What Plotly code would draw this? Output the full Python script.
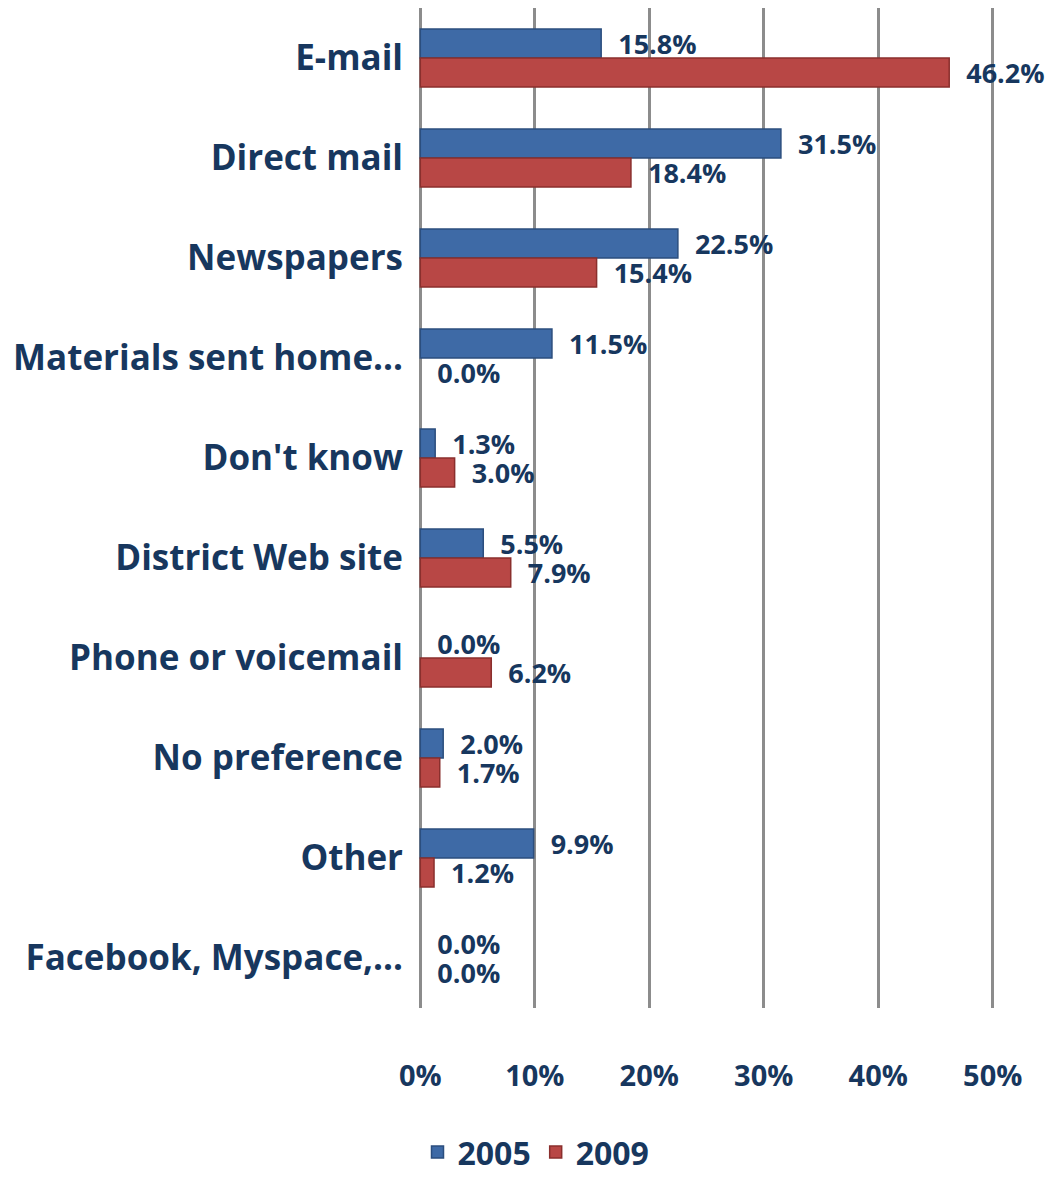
import plotly.graph_objects as go

categories = ["E-mail", "Direct mail", "Newspapers", "Materials sent home...", "Don't know",
              "District Web site", "Phone or voicemail", "No preference", "Other", "Facebook, Myspace,..."]
values_2005 = [15.8, 31.5, 22.5, 11.5, 1.3, 5.5, 0.0, 2.0, 9.9, 0.0]
values_2009 = [46.2, 18.4, 15.4, 0.0, 3.0, 7.9, 6.2, 1.7, 1.2, 0.0]
tick_vals = [0, 10, 20, 30, 40, 50]
tick_text = ["0%", "10%", "20%", "30%", "40%", "50%"]

navy = "#17375E"
FONT = "Open Sans"
LABEL_SIZE = 27


def edge_widths(vals):
    return [0 if v == 0 else 1.5 for v in vals]


fig = go.Figure()
fig.add_trace(go.Bar(
    name="2005", y=categories, x=values_2005, orientation="h",
    marker=dict(color="#3E6AA6", line=dict(color="#2B4E7E", width=edge_widths(values_2005))),
    texttemplate="\u00a0\u00a0%{x:.1f}%", textposition="outside",
    textfont=dict(family=FONT, size=LABEL_SIZE, color=navy, weight="bold"),
    constraintext="none", cliponaxis=False,
))
fig.add_trace(go.Bar(
    name="2009", y=categories, x=values_2009, orientation="h",
    marker=dict(color="#B84745", line=dict(color="#8A2F2D", width=edge_widths(values_2009))),
    texttemplate="\u00a0\u00a0%{x:.1f}%", textposition="outside",
    textfont=dict(family=FONT, size=LABEL_SIZE, color=navy, weight="bold"),
    constraintext="none", cliponaxis=False,
))

fig.update_layout(
    width=1056, height=1170,
    margin=dict(l=410, r=69, t=0, b=170),
    barmode="group", bargap=0.42, bargroupgap=0,
    plot_bgcolor="white", paper_bgcolor="white",
    font=dict(family=FONT, color=navy),
    xaxis=dict(range=[-0.2, 50.2], tickvals=tick_vals, ticktext=tick_text,
               showgrid=True, gridcolor="#8C8C8C", gridwidth=2.5,
               zeroline=False, showline=False, ticks="", automargin=False,
               tickfont=dict(family=FONT, size=29, color=navy, weight="bold"),
               ticklabelstandoff=48),
    yaxis=dict(autorange="reversed", showgrid=False, zeroline=False, showline=False, ticks="",
               automargin=False,
               tickfont=dict(family=FONT, size=35, color=navy, weight="bold"),
               ticklabelstandoff=14),
    legend=dict(orientation="h", xref="container", yref="container",
                x=0.5, xanchor="center", y=0.022, yanchor="middle",
                font=dict(family=FONT, size=32, color=navy, weight="bold"),
                traceorder="normal"),
    showlegend=True,
)

fig.write_html("out.html")
